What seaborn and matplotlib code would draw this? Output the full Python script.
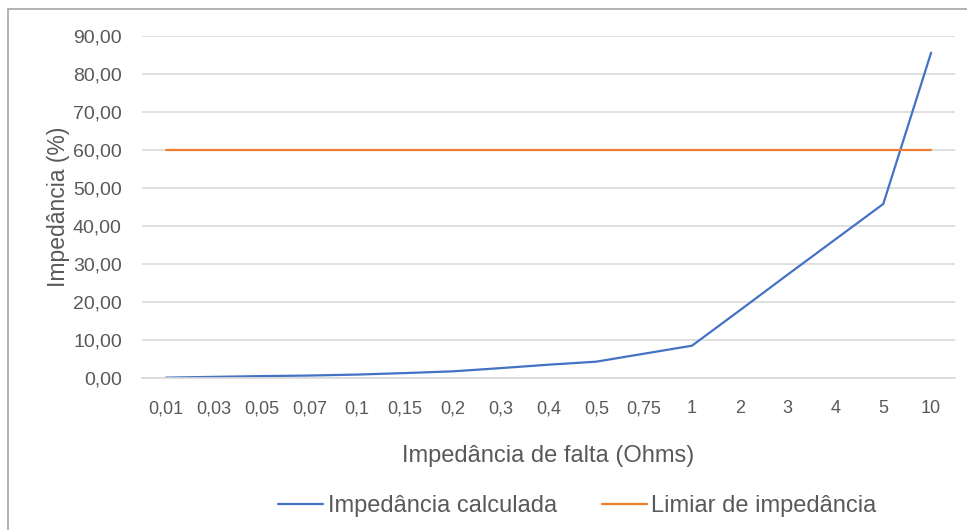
"""
Impedância calculada vs limiar de impedância (Excel-style line chart)
"""

import numpy as np
import pandas as pd
import matplotlib
matplotlib.use("Agg")
import matplotlib.pyplot as plt
import seaborn as sns

# data ########################################################################
fault_impedance = ['0,01', '0,03', '0,05', '0,07', '0,1', '0,15', '0,2', '0,3',
                   '0,4', '0,5', '0,75', '1', '2', '3', '4', '5', '10']
calc_impedance = [0.1, 0.3, 0.5, 0.65, 0.9, 1.3, 1.75, 2.6, 3.5, 4.3, 6.4,
                  8.5, 17.8, 27.2, 36.5, 45.8, 85.6]
threshold = [60.0] * len(fault_impedance)

SERIES = ['Impedância calculada', 'Limiar de impedância']
COLORS = ['#4472C4', '#ED7D31']
TEXT = '#595959'


def main():
    df = pd.concat([
        pd.DataFrame({'falta': fault_impedance, 'valor': calc_impedance,
                      'serie': SERIES[0]}),
        pd.DataFrame({'falta': fault_impedance, 'valor': threshold,
                      'serie': SERIES[1]}),
    ])

    sns.set_style('white')
    plt.rcParams['font.family'] = ['Liberation Sans', 'DejaVu Sans']

    fig = plt.figure(figsize=(9.67, 5.30), dpi=100)
    ax = fig.add_axes([142 / 967, 1 - 378 / 530, 813 / 967, 342 / 530])

    sns.lineplot(data=df, x='falta', y='valor', hue='serie', hue_order=SERIES,
                 palette=COLORS, linewidth=1.6, ax=ax, sort=False,
                 legend=False)

    # axes
    ax.set_xlim(-0.5, len(fault_impedance) - 0.5)
    ax.set_ylim(0, 90)
    ax.set_yticks(np.arange(0, 91, 10))
    ax.set_yticklabels([f'{v:.2f}'.replace('.', ',') for v in range(0, 91, 10)])
    ax.set_xticks(range(len(fault_impedance)))
    ax.set_xticklabels(fault_impedance)
    ax.yaxis.grid(True, color='#D9D9D9', linewidth=1.2)
    ax.set_axisbelow(True)
    for side in ['top', 'right', 'left']:
        ax.spines[side].set_visible(False)
    ax.spines['bottom'].set_color('#D9D9D9')
    ax.spines['bottom'].set_linewidth(1.2)
    ax.tick_params(axis='both', length=0, labelcolor=TEXT)
    ax.tick_params(axis='x', pad=16, labelsize=13)
    ax.tick_params(axis='y', pad=14.5, labelsize=14)

    ax.set_xlabel('Impedância de falta (Ohms)', fontsize=17, color=TEXT,
                  labelpad=20)
    ax.set_ylabel('Impedância (%)', fontsize=16.5, color=TEXT, labelpad=2)

    # legend
    handles = [plt.Line2D([], [], color=c, linewidth=1.6) for c in COLORS]
    fig.legend(handles, SERIES, loc='center', bbox_to_anchor=(0.597, 1 - 506 / 530),
               ncol=2, frameon=False, fontsize=17, labelcolor=TEXT,
               handlelength=1.9, handletextpad=0.2, columnspacing=1.9)

    # chart border
    fig.patches.append(plt.Rectangle((8 / 967, -0.01), 1.0, 1 - 9 / 530 + 0.01,
                                     transform=fig.transFigure, fill=False,
                                     edgecolor='#A6A6A6', linewidth=1.2))

    fig.savefig('out.png', dpi=100)


if __name__ == "__main__":
    main()
